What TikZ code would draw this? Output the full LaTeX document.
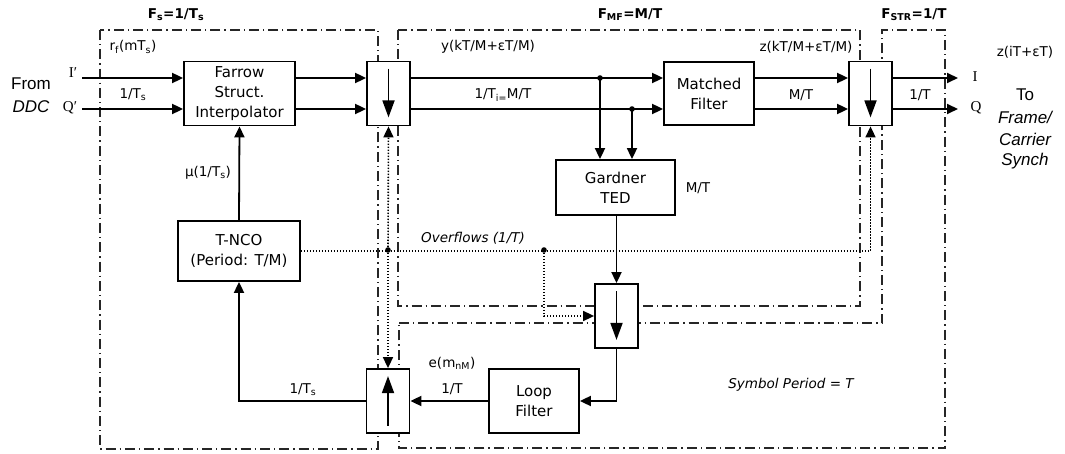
\documentclass[tikz,border=0pt]{standalone}
\usepackage{fontspec}
\setmainfont{DejaVu Sans}
\newfontfamily\arialf{Liberation Sans}
\newfontfamily\timesf{Liberation Serif}
\usetikzlibrary{arrows.meta,calc}
\newcommand\lbl{\fontsize{13.5}{16}\selectfont}
\newcommand\blkf{\fontsize{15}{20}\selectfont}
\newcommand\bigtxt{\arialf\fontsize{17}{22}\selectfont}
\begin{document}
\begin{tikzpicture}[x=1pt,y=-1pt,
  ln/.style={line width=1.8pt},
  arr/.style={ln,-{Triangle[length=11pt,width=10pt]}},
  bigarr/.style={ln,-{Triangle[length=17pt,width=12pt]}},
  dotl/.style={line width=1.6pt,dash pattern=on 1.3pt off 1.7pt},
  region/.style={line width=1.6pt,black!85,dash pattern=on 10pt off 4pt on 1.3pt off 4pt},
  blk/.style={draw,fill=white,line width=1.8pt,align=center,font=\blkf,inner sep=0pt},
  rs/.style={blk,minimum width=43pt,minimum height=64pt},
  txt/.style={font=\lbl,inner sep=0pt}]
\useasboundingbox (0,0) rectangle (1065,454);

% regions
\draw[region] (100,30) rectangle (378,449);
\draw[region] (398,30) rectangle (860,306);
\draw[region] (399,323) -- (882,323) -- (882,30) -- (945,30) -- (945,448) -- (399,448) -- cycle;

% blocks
\node[blk,minimum width=111pt,minimum height=64pt] (farrow) at (239.5,93.5) {Farrow\\Struct.\\Interpolator};
\node[rs] (dec1) at (388.5,93.5) {};
\node[blk,minimum width=90pt,minimum height=63pt] (mf) at (709,93.5) {Matched\\Filter};
\node[rs] (dec2) at (870.5,93.5) {};
\node[blk,minimum width=119pt,minimum height=55pt] (ted) at (615.5,187.5) {Gardner\\TED};
\node[blk,minimum width=122pt,minimum height=60pt] (nco) at (239,251) {T-NCO\\(Period: T/M)};
\node[rs] (dec3) at (616.5,316) {};
\node[blk,minimum width=90pt,minimum height=64pt] (loop) at (534,401) {Loop\\Filter};
\node[rs] (up) at (388,401) {};

% inner arrows
\draw[bigarr] ($(dec1.north)+(0,8)$) -- ($(dec1.south)+(0,-9)$);
\draw[bigarr] ($(dec2.north)+(0,8)$) -- ($(dec2.south)+(0,-9)$);
\draw[bigarr] ($(dec3.north)+(0,8)$) -- ($(dec3.south)+(0,-9)$);
\draw[bigarr] ($(up.south)+(0,-8)$) -- ($(up.north)+(0,8)$);

% coordinates
\coordinate (iI) at (82,78);
\coordinate (iQ) at (82,109);
\coordinate (oI) at (958,78);
\coordinate (oQ) at (958,109);
\coordinate (t1) at (600,78);
\coordinate (t2) at (632,109);
\coordinate (ov1) at (388,250);
\coordinate (ov2) at (544,250);

% signal path
\draw[arr] (iI) -- (farrow.west|-iI);
\draw[arr] (iQ) -- (farrow.west|-iQ);
\draw[arr] (farrow.east|-iI) -- (dec1.west|-iI);
\draw[arr] (farrow.east|-iQ) -- (dec1.west|-iQ);
\draw[arr] (dec1.east|-iI) -- (mf.west|-iI);
\draw[arr] (dec1.east|-iQ) -- (mf.west|-iQ);
\draw[arr] (mf.east|-iI) -- (dec2.west|-iI);
\draw[arr] (mf.east|-iQ) -- (dec2.west|-iQ);
\draw[arr] (dec2.east|-oI) -- (oI);
\draw[arr] (dec2.east|-oQ) -- (oQ);
\fill (t1) circle (2.8pt);
\fill (t2) circle (2.8pt);
\draw[arr] (t1) -- (t1|-ted.north);
\draw[arr] (t2) -- (t2|-ted.north);
\draw[arr] (ted.south-|dec3.north) -- (dec3.north);
\draw[arr] (dec3.south) |- (loop.east);
\draw[arr] (loop.west) -- (up.east);
\draw[arr] (up.west) -| (nco.south);
\draw[arr] (nco.north) -- (farrow.south);

% overflow (dotted)
\draw[dotl] (nco.east) -| ($(dec2.south)+(0,10)$);
\draw[arr,dotl] ($(dec2.south)+(0,10)$) -- (dec2.south);
\draw[arr,dotl] (ov1) -- (dec1.south);
\draw[arr,dotl] (ov1) -- (up.north);
\draw[arr,dotl] (ov2) |- (dec3.west);
\fill (ov1) circle (2.8pt);
\fill (ov2) circle (2.8pt);

% labels
\node[txt,font=\lbl\bfseries] (l1) at (176,15) {F\textsubscript{s}=1/T\textsubscript{s}};
\node[txt,font=\lbl\bfseries] (l2) at (630,15) {F\textsubscript{MF}=M/T};
\node[txt,font=\lbl\bfseries] (l3) at (914,15) {F\textsubscript{STR}=1/T};
\node[txt] (l4) at (133,47) {r\textsubscript{f}(mT\textsubscript{s})};
\node[txt,font=\timesf\fontsize{15}{18}\selectfont] (l5) at (73,73) {I′};
\node[txt,font=\timesf\fontsize{15}{18}\selectfont] (l6) at (70,108) {Q′};
\node[txt,font=\bigtxt] (l7) at (31,84) {From};
\node[txt,font=\bigtxt\itshape] (l8) at (31,107) {DDC};
\node[txt] (l9) at (133,95) {1/T\textsubscript{s}};
\node[txt] (l10) at (488,47) {y(kT/M+εT/M)};
\node[txt] (l11) at (503,95) {1/T\textsubscript{i=}M/T};
\node[txt] (l12) at (806,47) {z(kT/M+εT/M)};
\node[txt] (l13) at (801,95) {M/T};
\node[txt] (l14) at (920,95) {1/T};
\node[txt,font=\timesf\fontsize{15}{18}\selectfont] (l15) at (975,77) {I};
\node[txt,font=\timesf\fontsize{15}{18}\selectfont] (l16) at (976,108) {Q};
\node[txt] (l17) at (1025,52) {z(iT+εT)};
\node[txt,font=\bigtxt] (l18) at (1025,95) {To};
\node[txt,font=\bigtxt\itshape] (l19) at (1025,117) {Frame/};
\node[txt,font=\bigtxt\itshape] (l20) at (1025,139) {Carrier};
\node[txt,font=\bigtxt\itshape] (l21) at (1025,161) {Synch};
\node[txt] (l22) at (208,173) {μ(1/T\textsubscript{s})};
\node[txt] (l23) at (698,188) {M/T};
\node[txt,font=\lbl\itshape] (l24) at (473,238) {Overflows (1/T)};
\node[txt] (l25) at (452,363) {e(m\textsubscript{nM})};
\node[txt] (l26) at (452,389) {1/T};
\node[txt] (l27) at (303,390) {1/T\textsubscript{s}};
\node[txt,font=\lbl\itshape] (l28) at (791,385) {Symbol Period = T};
\end{tikzpicture}
\end{document}
